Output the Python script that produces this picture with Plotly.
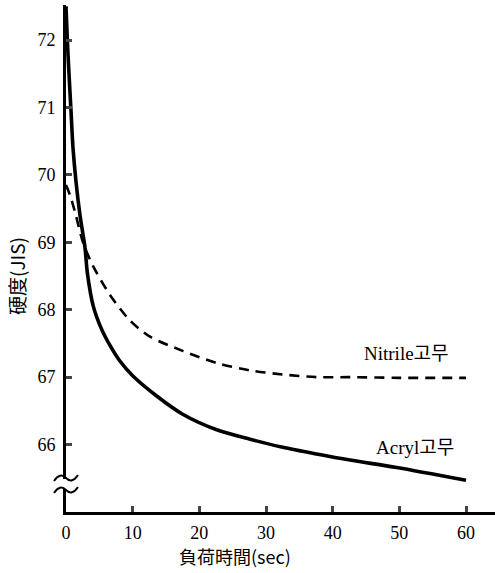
import plotly.graph_objects as go

# Data
acryl_t = [0, 0.2, 0.45, 0.75, 1.05, 1.5, 2.1, 2.85, 3.2, 4.1, 5.3, 6.6, 8, 10, 13.6, 17.5, 22.6, 27.6, 32.5, 37.6, 42.6, 49.6, 60]
acryl_h = [72.5, 72.0, 71.5, 70.95, 70.4, 69.9, 69.4, 68.92, 68.55, 68.05, 67.72, 67.47, 67.25, 67.02, 66.72, 66.45, 66.22, 66.08, 65.96, 65.86, 65.77, 65.66, 65.47]

nitrile_t = [0, 0.6, 1.35, 2.55, 4.05, 6.6, 9.6, 12.6, 17.5, 22.6, 27.6, 32.5, 37.6, 42.6, 50, 60]
nitrile_h = [69.85, 69.7, 69.45, 69.0, 68.65, 68.22, 67.84, 67.6, 67.39, 67.21, 67.1, 67.04, 67.0, 67.0, 66.99, 66.99]

x_ticks = [0, 10, 20, 30, 40, 50, 60]
y_ticks = [66, 67, 68, 69, 70, 71, 72]

series_labels = ["Nitrile고무", "Acryl고무"]
x_title = "負荷時間(sec)"
y_title = "硬度(JIS)"

SERIF = "'Liberation Serif', 'Times New Roman', 'Noto Sans CJK KR', serif"
CJK = "'Noto Sans CJK JP'"

L, R, T, B = 66, 0, 5, 61
W, H = 495 - L - R, 573 - T - B
def px_to_paper(px, py):
    return (px - L) / W, (573 - B - py) / H

fig = go.Figure()
fig.add_trace(go.Scatter(x=nitrile_t, y=nitrile_h, mode="lines",
                         line=dict(color="black", width=2.6, dash="10px,7px", shape="spline", smoothing=0.8),
                         showlegend=False))
fig.add_trace(go.Scatter(x=acryl_t, y=acryl_h, mode="lines",
                         line=dict(color="black", width=3.6, shape="spline", smoothing=0.8),
                         showlegend=False))

fig.update_layout(
    width=495, height=573,
    margin=dict(l=L, r=R, t=T, b=B),
    paper_bgcolor="white", plot_bgcolor="white",
    font=dict(family=SERIF, color="black", size=18),
    xaxis=dict(range=[0, 64.35], tickvals=x_ticks, ticks="inside", ticklen=6, tickwidth=2.5,
               showline=True, linecolor="black", linewidth=3, showgrid=False, zeroline=False,
               tickfont=dict(family=SERIF, size=18), ticklabelstandoff=2),
    yaxis=dict(range=[65.0, 72.52], tickvals=y_ticks, ticks="inside", ticklen=6, tickwidth=2.5,
               showline=True, linecolor="black", linewidth=3, showgrid=False, zeroline=False,
               tickfont=dict(family=SERIF, size=18), ticklabelstandoff=4),
)

# series labels
nl_x, nl_y = px_to_paper(406, 353)
fig.add_annotation(x=nl_x, y=nl_y, xref="paper", yref="paper", text=series_labels[0], showarrow=False,
                   xanchor="center", yanchor="middle", font=dict(family=SERIF, size=19))
al_x, al_y = px_to_paper(415, 447)
fig.add_annotation(x=al_x, y=al_y, xref="paper", yref="paper", text=series_labels[1], showarrow=False,
                   xanchor="center", yanchor="middle", font=dict(family=SERIF, size=19))

# axis titles
xt_x, xt_y = px_to_paper(235, 556)
fig.add_annotation(x=xt_x, y=xt_y, xref="paper", yref="paper", text=x_title, showarrow=False,
                   xanchor="center", yanchor="middle", font=dict(family=CJK, size=18))
yt_x, yt_y = px_to_paper(16, 276)
fig.add_annotation(x=yt_x, y=yt_y, xref="paper", yref="paper", text=y_title, showarrow=False,
                   xanchor="center", yanchor="middle", textangle=-90, font=dict(family=CJK, size=19))

# axis break symbol on y-axis
bx0, _ = px_to_paper(54, 0)
bx1, _ = px_to_paper(78, 0)
_, yb_hi = px_to_paper(0, 478)
_, yb_lo = px_to_paper(0, 490)
fig.add_shape(type="rect", xref="paper", yref="paper", x0=-0.012, x1=0.012, y0=yb_lo + 0.002, y1=yb_hi - 0.002,
              fillcolor="white", line=dict(width=0), layer="above")
for yc in (yb_hi, yb_lo):
    dy = 0.006
    xm = (bx0 + bx1) / 2
    q = (bx1 - bx0) / 4
    path = (f"M {bx0},{yc - dy} Q {bx0 + q},{yc + 2*dy} {xm},{yc} "
            f"T {bx1},{yc + dy}")
    fig.add_shape(type="path", xref="paper", yref="paper", path=path,
                  line=dict(color="black", width=2), layer="above")

fig.write_html("out.html")
